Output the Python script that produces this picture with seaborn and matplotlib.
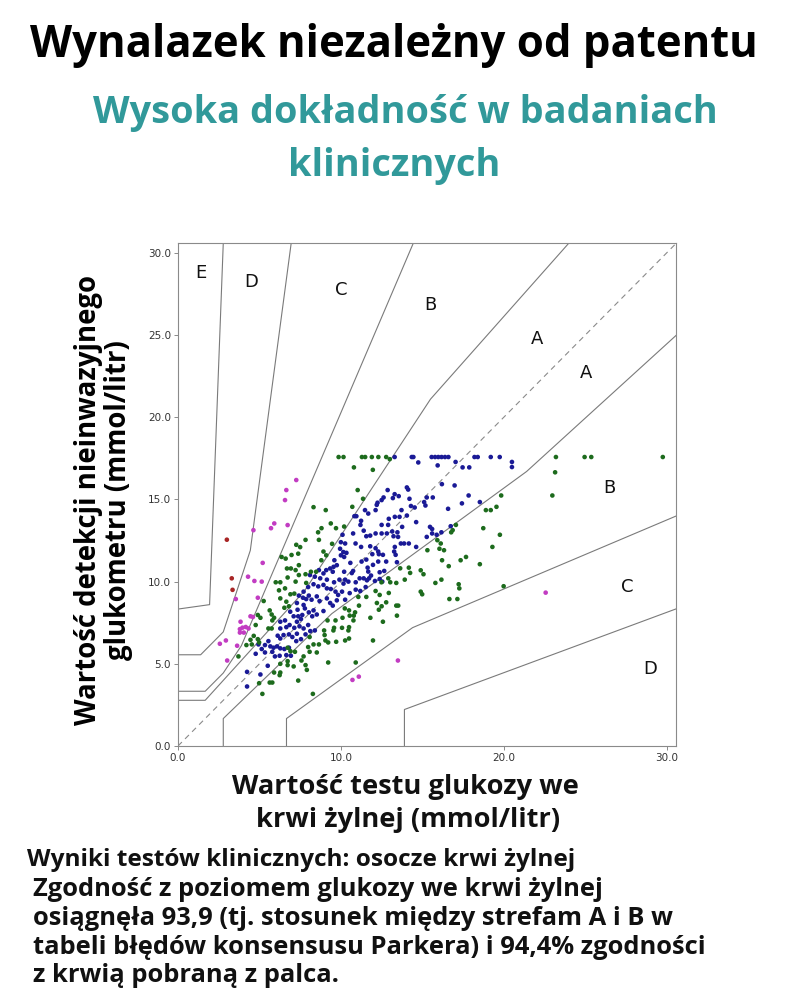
import pandas as pd
import seaborn as sns
import matplotlib.pyplot as plt
from matplotlib import font_manager

# --- points (reference venous glucose, meter reading), mmol/l ---
# zone A points (blue)
a_x = [13.3, 14.35, 14.45, 15.57, 15.78, 15.98, 16.18, 16.39, 16.6, 18.2, 18.4, 19.2, 19.75,
       14.75, 15.94, 17.04, 17.47, 17.88, 20.5, 20.5,
       10.0, 10.1, 9.95, 10.15, 10.0, 10.2, 9.6, 9.75, 9.55, 9.34, 9.1, 9.5, 10.2, 8.65, 8.93, 8.4, 8.1,
       12.87, 13.3, 14.05, 14.13, 14.21, 16.2, 16.98, 13.55, 13.19, 12.62, 12.5, 12.25, 12.2, 15.27,
       15.64, 15.11, 15.19, 17.84, 17.43, 18.53, 16.58, 14.3, 14.53, 13.72, 14.05, 13.6, 13.31, 12.94,
       11.48, 11.68, 12.13, 10.83, 10.95, 11.24, 11.2, 12.5, 12.9, 13.76, 14.62, 15.47, 15.6, 11.4,
       10.75, 13.15, 13.47, 16.74, 15.27, 15.6, 15.88, 16.17, 11.8, 12.13, 12.5, 12.82, 11.56, 13.23,
       13.51, 13.68, 13.88, 14.17, 14.62, 10.26, 10.9, 11.24, 11.8, 12.13, 12.29, 12.33, 13.31, 13.27,
       12.58, 12.78, 13.36, 13.44, 11.56, 11.27, 10.58, 10.34, 11.93, 12.29, 11.97, 12.66, 12.38,
       11.64, 11.68, 10.75, 10.67,
       10.26, 10.46, 10.91, 11.15, 11.4, 11.6, 11.73, 11.52, 11.19, 10.91, 10.54, 10.26, 12.09, 12.38,
       12.54, 11.85,
       8.73, 9.14, 9.58, 9.91, 10.16, 7.99, 8.32, 8.61, 8.93, 9.14, 9.38, 9.67, 9.83, 10.07, 7.71,
       7.42, 7.67, 7.87, 8.03, 8.2, 8.52, 8.69, 9.14, 9.34, 9.5, 9.75, 7.3, 7.71, 7.79, 7.34, 6.89,
       7.1, 7.38, 7.55, 7.63, 8.03, 8.32, 8.52, 8.93, 8.24, 6.28, 6.57, 6.28, 6.65, 6.85, 7.14, 7.3,
       7.46, 7.71, 7.99, 8.12, 8.4, 7.83, 7.3, 6.81, 6.48, 6.12, 6.28, 7.02, 7.55, 7.26, 4.94, 5.34,
       5.67, 5.87, 6.08, 6.28, 6.53, 6.81, 5.55, 5.14, 5.34, 5.79, 5.95, 6.24, 6.65, 6.93, 4.77, 5.51,
       4.24, 5.06, 4.24]
a_y = [17.58, 17.58, 17.58, 17.58, 17.58, 17.58, 17.58, 17.58, 17.58, 17.58, 17.58, 17.58, 17.58,
       17.25, 17.07, 17.28, 16.95, 16.95, 17.28, 16.97,
       12.4, 12.85, 12.0, 11.8, 11.6, 11.5, 11.3, 11.0, 10.9, 10.8, 10.7, 10.6, 10.6, 10.7, 10.5, 10.3, 10.4,
       15.57, 15.32, 15.73, 15.6, 15.04, 15.93, 15.85, 15.2, 15.08, 15.12, 14.96, 14.8, 14.67, 15.12,
       15.12, 14.84, 14.63, 15.24, 14.76, 14.84, 14.43, 14.6, 14.51, 14.35, 14.02, 13.94, 13.94, 13.82,
       14.35, 14.14, 14.35, 13.98, 13.98, 13.7, 13.45, 13.45, 13.45, 13.33, 13.62, 13.33, 13.2, 13.1,
       12.93, 13.05, 13.0, 13.37, 12.72, 12.93, 12.85, 13.0, 12.8, 12.93, 12.93, 12.93, 12.76, 12.76,
       12.72, 12.32, 12.32, 12.32, 12.11, 12.32, 12.32, 12.11, 12.15, 12.03, 11.83, 11.67, 12.11, 11.83,
       11.63, 11.22, 11.63, 11.18, 11.34, 11.22, 11.14, 11.75, 11.67, 11.22, 11.02, 10.65, 10.57,
       10.85, 10.61, 10.65, 10.52,
       10.12, 10.0, 9.96, 10.2, 10.2, 10.08, 10.2, 9.67, 9.43, 9.51, 9.3, 8.9, 10.04, 10.16,
       10.0, 10.37,
       10.2, 10.12, 9.96, 10.12, 9.88, 9.67, 9.84, 9.71, 9.8, 9.59, 9.55, 9.39, 9.19, 9.39, 9.39,
       9.15, 9.02, 8.94, 9.15, 8.9, 9.1, 8.82, 8.98, 8.7, 8.54, 8.86, 8.7, 8.58, 8.37, 8.29, 8.17,
       7.89, 7.89, 7.72, 7.97, 8.13, 8.25, 8.0, 8.21, 7.89, 7.56, 7.64, 7.15, 7.23, 7.36, 7.19, 7.56,
       7.28, 7.15, 7.36, 6.99, 7.03, 6.79, 6.83, 6.79, 6.75, 6.71, 6.54, 6.63, 6.5, 6.38, 6.18, 6.14,
       6.06, 5.98, 6.06, 5.94, 5.9, 5.98, 6.38, 5.9, 5.69, 5.73, 5.45, 5.49, 5.53, 5.49, 5.61, 4.88,
       4.51, 4.35, 3.62]

# zone B points (green)
b_x = [9.86, 10.16, 11.29, 11.49, 11.9, 12.3, 12.78, 13.0, 23.2, 24.96, 25.37, 29.76, 10.8, 11.96,
       23.15, 22.98,
       8.32, 9.07, 9.38, 9.7, 10.2, 8.81, 8.6, 7.83, 8.65, 9.46, 7.26, 7.5, 7.38, 6.97, 6.36, 6.61,
       8.93, 9.1, 8.8, 7.42, 6.69, 6.93, 7.22, 8.16, 8.48, 7.83, 7.42, 6.73,
       11.03, 11.36, 10.7, 17.06, 16.86, 16.77, 19.84, 19.55, 19.2, 18.9, 18.74, 19.76, 19.3, 15.92,
       16.13, 16.05, 16.33, 15.31, 16.21, 17.68, 17.35, 18.53, 16.62, 14.17, 13.64, 14.9, 15.07, 14.25,
       12.91, 13.03, 13.4, 13.92, 15.8, 16.17, 17.23, 17.27, 19.99, 14.9, 14.99, 16.66, 17.15, 12.13,
       12.38, 12.21, 12.5, 12.78, 12.94, 13.4, 13.52, 13.44, 12.33, 11.07, 11.11, 11.56, 10.5, 10.54,
       10.79, 10.77, 10.87, 11.81, 12.58, 10.5, 10.46, 10.5, 10.26, 11.97, 10.91, 12.49,
       6.0, 6.28, 7.22, 7.87, 6.57, 6.2, 6.9, 7.14, 5.26, 6.28, 6.65, 6.81, 6.53, 5.63, 5.75, 5.9,
       5.79, 4.9, 5.06, 4.77, 5.55, 5.75, 4.65, 4.45, 4.53, 4.2, 3.71, 6.73, 6.9, 7.18, 7.99, 8.08,
       7.71, 8.52, 7.58, 6.73, 6.28, 6.73, 7.1, 5.9, 6.28, 6.24, 7.83, 7.91, 7.38, 4.98, 5.63, 5.79,
       5.18, 8.28, 8.97, 9.0, 9.05, 9.22, 9.54, 9.18, 9.67, 10.1, 10.24, 10.07, 9.58, 9.71, 9.22,
       8.32, 8.65, 8.08, 4.9, 4.98]
b_y = [17.58, 17.58, 17.58, 17.58, 17.58, 17.58, 17.58, 17.45, 17.58, 17.58, 17.58, 17.58, 16.95, 16.8,
       16.65, 15.24,
       14.53, 14.35, 13.54, 13.25, 13.35, 13.25, 13.0, 12.54, 12.54, 12.3, 12.24, 12.1, 11.7, 11.62,
       11.5, 11.4, 11.83, 11.6, 11.3, 11.0, 10.8, 10.8, 10.7, 10.6, 10.6, 10.45, 10.4, 10.25,
       15.57, 15.04, 14.55, 13.45, 13.13, 13.0, 15.24, 14.55, 14.35, 14.35, 13.25, 12.85, 12.11, 12.52,
       12.32, 12.0, 11.91, 11.91, 11.3, 11.5, 11.3, 11.06, 10.94, 10.85, 10.81, 10.69, 10.45, 10.53,
       10.2, 9.96, 9.92, 10.12, 9.92, 10.12, 9.84, 9.59, 9.72, 9.39, 9.23, 8.94, 8.94, 9.43,
       9.19, 8.7, 8.5, 8.74, 9.31, 8.54, 8.54, 7.93, 8.29, 9.07, 8.54, 9.07, 8.25, 7.93,
       7.93, 7.64, 8.13, 7.8, 7.56, 7.23, 7.03, 6.54, 6.42, 6.42, 5.08, 9.96,
       9.96, 9.96, 10.0, 9.92, 9.59, 9.47, 9.23, 9.27, 8.82, 8.98, 8.78, 8.5, 8.41, 8.25, 8.0, 7.8,
       7.64, 7.97, 7.8, 7.36, 7.15, 7.15, 6.7, 6.46, 6.18, 6.14, 5.45, 5.98, 5.77, 5.73, 6.02, 5.73,
       5.45, 5.69, 5.2, 5.16, 5.0, 4.92, 4.84, 4.47, 4.47, 4.31, 4.92, 4.63, 3.98, 3.82, 3.86, 3.86,
       3.17, 3.17, 7.03, 6.75, 6.42, 6.3, 7.03, 7.64, 7.64, 7.8, 8.37, 7.19, 7.19, 6.34, 5.08,
       6.18, 6.18, 6.63, 6.5, 6.3]

# zone C points (magenta)
c_x = [7.26, 6.65, 6.57, 5.91, 5.71, 6.73, 4.63, 5.2, 4.3, 4.69, 5.14, 3.55, 4.9, 4.45, 4.6, 3.84,
       4.16, 3.96, 3.8, 4.33, 3.8, 4.04, 2.94, 2.57, 3.63, 3.02, 22.57, 13.5, 10.71, 11.1]
c_y = [16.18, 15.57, 14.96, 13.54, 13.25, 13.44, 13.13, 11.14, 10.3, 10.04, 10.0, 8.94, 9.02, 7.89,
       7.85, 7.56, 7.24, 7.2, 7.11, 7.15, 6.9, 6.9, 6.42, 6.22, 6.1, 5.2, 9.33, 5.2, 4.02, 4.22]

# zone D points (dark red)
d_x = [3.0, 3.3, 3.35]
d_y = [12.55, 10.2, 9.5]

# Parkes error grid boundaries (mmol/l)
upper_a_x = [0, 1.67, 7.77, 15.5, 24.0]
upper_a_y = [2.78, 2.78, 9.44, 21.1, 30.6]
upper_b_x = [0, 1.67, 2.78, 3.89, 14.45]
upper_b_y = [3.33, 3.33, 4.44, 6.1, 30.6]
upper_c_x = [0, 1.39, 2.78, 4.44, 6.95]
upper_c_y = [5.55, 5.55, 6.94, 11.9, 30.6]
upper_d_x = [0, 1.94, 2.78]
upper_d_y = [8.33, 8.6, 30.6]
lower_a_x = [2.78, 2.78, 9.44, 21.4, 30.6]
lower_a_y = [0, 1.67, 8.05, 16.7, 25.0]
lower_b_x = [6.66, 6.66, 14.4, 30.6]
lower_b_y = [0, 1.67, 7.2, 14.0]
lower_c_x = [13.9, 13.9, 30.6]
lower_c_y = [0, 2.22, 8.35]

zone_names = ['E', 'D', 'C', 'B', 'A', 'A', 'B', 'C', 'D']
zone_name_x = [1.39, 4.5, 10.0, 15.5, 22.05, 25.05, 26.5, 27.55, 29.0]
zone_name_y = [28.75, 28.25, 27.75, 26.8, 24.75, 22.7, 15.7, 9.7, 4.7]

zone_colors = {'A': '#1a1a96', 'B': '#1d6b1d', 'C': '#c23cc2', 'D': '#a82525'}

df = pd.concat([
    pd.DataFrame({'ref': a_x, 'meter': a_y, 'zone': 'A'}),
    pd.DataFrame({'ref': b_x, 'meter': b_y, 'zone': 'B'}),
    pd.DataFrame({'ref': c_x, 'meter': c_y, 'zone': 'C'}),
    pd.DataFrame({'ref': d_x, 'meter': d_y, 'zone': 'D'}),
], ignore_index=True)


def has_bold(family):
    try:
        path = font_manager.findfont(font_manager.FontProperties(family=family, weight='bold'),
                                     fallback_to_default=False)
    except Exception:
        return False
    p = path.lower()
    return 'bold' in p and 'condensed' not in p


text_font = next((f for f in ['Open Sans', 'Lato', 'Roboto'] if has_bold(f)), 'DejaVu Sans')

sns.set_style('white')
plt.rcParams['font.family'] = [text_font, 'DejaVu Sans']

fig = plt.figure(figsize=(7.9, 10), dpi=100)
fig.patch.set_facecolor('white')

ax = fig.add_axes([0.2253, 0.254, 0.631, 0.503])

line_kw = dict(color='#7a7a7a', lw=0.8, zorder=1)
for lx, ly in [(upper_a_x, upper_a_y), (upper_b_x, upper_b_y), (upper_c_x, upper_c_y),
               (upper_d_x, upper_d_y), (lower_a_x, lower_a_y), (lower_b_x, lower_b_y),
               (lower_c_x, lower_c_y)]:
    ax.plot(lx, ly, **line_kw)
ax.plot([0, 30.6], [0, 30.6], color='#8a8a8a', lw=0.8, ls=(0, (5, 4)), zorder=1)

sns.scatterplot(data=df, x='ref', y='meter', hue='zone', palette=zone_colors,
                s=11, linewidth=0, legend=False, ax=ax, zorder=3)

for name, tx, ty in zip(zone_names, zone_name_x, zone_name_y):
    ax.text(tx, ty, name, fontsize=13, ha='center', va='center', color='#111111',
            family='DejaVu Sans')

ax.set_xlim(0, 30.6)
ax.set_ylim(0, 30.6)
ax.set_xticks([0, 10, 20, 30])
ax.set_yticks([0, 5, 10, 15, 20, 25, 30])
ax.set_xticklabels(['0.0', '10.0', '20.0', '30.0'])
ax.set_yticklabels(['0.0', '5.0', '10.0', '15.0', '20.0', '25.0', '30.0'])
ax.tick_params(axis='both', labelsize=7.5, labelcolor='#333333', length=3, width=0.6,
               color='#777777', direction='out', bottom=True, left=True, pad=2)
for lbl in ax.get_xticklabels() + ax.get_yticklabels():
    lbl.set_family('DejaVu Sans')
for sp in ax.spines.values():
    sp.set_color('#8a8a8a')
    sp.set_linewidth(0.8)
ax.set_xlabel('')
ax.set_ylabel('')

renderer = fig.canvas.get_renderer()


def fit(texts, target_px, vertical=False):
    # scale a group of texts so the first one spans target_px pixels
    bb = texts[0].get_window_extent(renderer)
    span = bb.height if vertical else bb.width
    size = texts[0].get_fontsize() * target_px / span
    for t in texts:
        t.set_fontsize(size)


# headings
title = fig.text(0.498, 0.955, 'Wynalazek niezależny od patentu', ha='center', va='center',
                 fontsize=27, fontweight='bold', color='#000000')
fit([title], 727)
sub1 = fig.text(0.513, 0.887, 'Wysoka dokładność w badaniach', ha='center', va='center',
                fontsize=24, fontweight='bold', color='#31999a')
sub2 = fig.text(0.499, 0.834, 'klinicznych', ha='center', va='center',
                fontsize=24, fontweight='bold', color='#31999a')
fit([sub1, sub2], 623)

# axis titles
yl1 = fig.text(0.112, 0.5, 'Wartość detekcji nieinwazyjnego', rotation=90, ha='center', va='center',
               fontsize=16.5, fontweight='bold', color='#000000')
yl2 = fig.text(0.150, 0.5, 'glukometru (mmol/litr)', rotation=90, ha='center', va='center',
               fontsize=16.5, fontweight='bold', color='#000000')
fit([yl1, yl2], 450, vertical=True)
xl1 = fig.text(0.513, 0.213, 'Wartość testu glukozy we', ha='center', va='center',
               fontsize=16.5, fontweight='bold', color='#111111')
xl2 = fig.text(0.516, 0.180, 'krwi żylnej (mmol/litr)', ha='center', va='center',
               fontsize=16.5, fontweight='bold', color='#111111')
fit([xl1, xl2], 346)

# notes
head = fig.text(0.034, 0.140, 'Wyniki testów klinicznych: osocze krwi żylnej', ha='left', va='center',
                fontsize=13.5, fontweight='bold', color='#111111')
fit([head], 550)
notes = ['tabeli błędów konsensusu Parkera) i 94,4% zgodności',
         'Zgodność z poziomem glukozy we krwi żylnej',
         'osiągnęła 93,9 (tj. stosunek między strefam A i B w',
         'z krwią pobraną z palca.']
note_rows = [2, 0, 1, 3]
note_texts = [fig.text(0.042, 0.110 - r * 0.0285, line, ha='left', va='center',
                       fontsize=14.5, fontweight='bold', color='#111111')
              for line, r in zip(notes, note_rows)]
fit(note_texts, 672)

fig.savefig('out.png', dpi=100)
